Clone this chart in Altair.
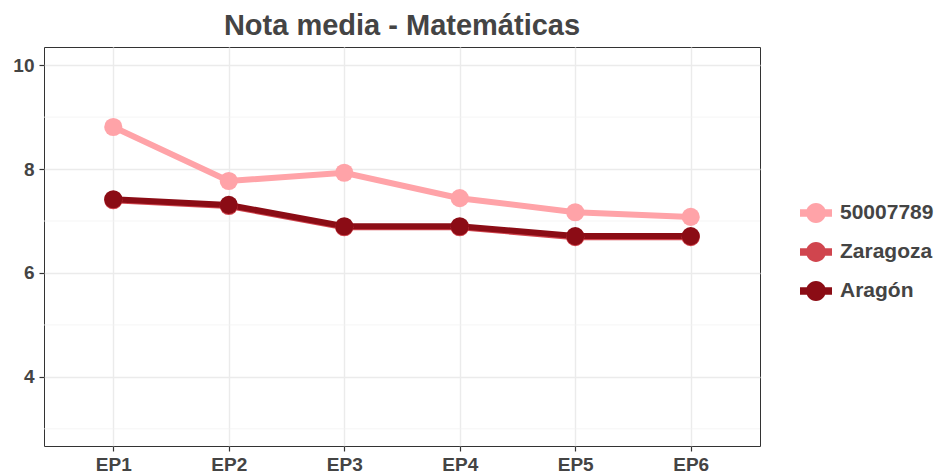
import altair as alt
import pandas as pd

cats = ["EP1", "EP2", "EP3", "EP4", "EP5", "EP6"]
series = ["50007789", "Zaragoza", "Aragón"]
v_centro = [8.81, 7.77, 7.93, 7.44, 7.17, 7.08]
v_zaragoza = [7.40, 7.29, 6.88, 6.88, 6.69, 6.69]
v_aragon = [7.42, 7.31, 6.90, 6.90, 6.71, 6.71]
colors = ["#FFA3A8", "#D0454E", "#8B0C15"]
minor_ticks = [3, 5, 7, 9]

rows = []
for name, vals in zip(series, [v_centro, v_zaragoza, v_aragon]):
    for i, (c, v) in enumerate(zip(cats, vals)):
        rows.append({"curso": c, "serie": name, "nota": v, "orden": series.index(name)})
df = pd.DataFrame(rows)
minor_df = pd.DataFrame({"y": minor_ticks})

sym = ("M-1,-0.24 L1,-0.24 L1,0.24 L-1,0.24 Z "
       "M0.62,0 A0.62,0.62 0 1,1 -0.62,0 A0.62,0.62 0 1,1 0.62,0 Z")

yscale = alt.Scale(domain=[2.67, 10.35], nice=False, zero=False)
xscale = alt.Scale(domain=cats, padding=0.6)
color = alt.Color(
    "serie:N",
    scale=alt.Scale(domain=series, range=colors),
    sort=series,
    legend=alt.Legend(
        title=None, orient="none", legendX=756, legendY=150,
        symbolType=sym, symbolSize=1024, symbolStrokeWidth=0,
        labelFontSize=21, labelFont="Liberation Sans", labelFontWeight="bold",
        labelColor="#444444", labelOffset=8, rowPadding=13, padding=0,
        labelLimit=200,
    ),
)

minor = alt.Chart(minor_df).mark_rule(color="#F2F2F2", strokeWidth=0.8).encode(
    y=alt.Y("y:Q", scale=yscale)
)

lines = alt.Chart(df).mark_line(strokeWidth=6).encode(
    x=alt.X("curso:O", scale=xscale, sort=cats, title=None),
    y=alt.Y("nota:Q", scale=yscale, title=None,
            axis=alt.Axis(values=[4, 6, 8, 10], format="d", labelPadding=5)),
    color=color,
    order="orden:Q",
)

points = alt.Chart(df).mark_circle(size=330, opacity=1).encode(
    x=alt.X("curso:O", scale=xscale, sort=cats),
    y=alt.Y("nota:Q", scale=yscale),
    color=color,
    order="orden:Q",
)

chart = alt.layer(minor, lines, points).properties(
    width=716, height=399,
    title=alt.Title("Nota media - Matemáticas", fontSize=29, font="Liberation Sans",
                    fontWeight="bold", color="#444444", anchor="middle", offset=6),
    autosize=alt.AutoSizeParams(type="none"),
    padding={"left": 36, "top": 39, "right": 176, "bottom": 27},
).configure_view(
    stroke="#333333", strokeWidth=1
).configure_axis(
    grid=True, gridColor="#EBEBEB", gridWidth=1.4, domain=False,
    tickColor="#333333", tickSize=5, tickWidth=1.2,
    labelFont="Liberation Sans", labelFontSize=19, labelFontWeight="bold",
    labelColor="#444444", labelPadding=3,
).configure_axisX(labelAngle=0, labelPadding=4)

chart.save("out.html", embed_options={"renderer": "svg", "actions": False})
